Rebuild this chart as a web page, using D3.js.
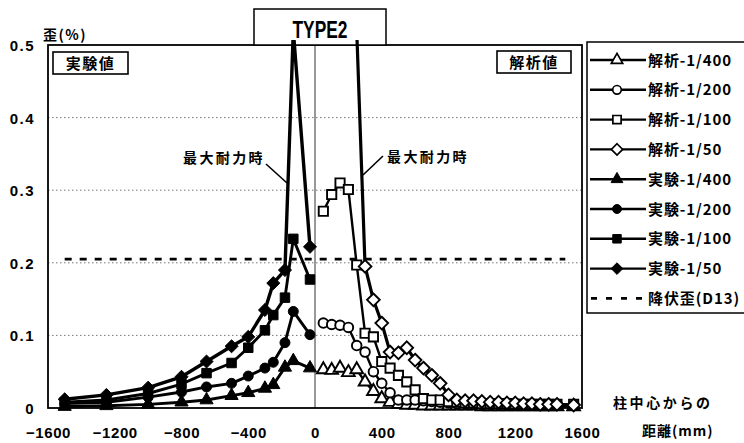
<!DOCTYPE html>
<html>
<head>
<meta charset="utf-8">
<script src="https://cdn.jsdelivr.net/npm/d3@7"></script>
<style>
  body { margin: 0; background: #fff; }
  svg text { fill: #000; }
</style>
</head>
<body>
<svg id="chart" width="744" height="443"></svg>
<script>
// Strain distribution along the beam, measured by gauge distance from the column centre.
const expX   = [-1500, -1250, -1000, -800, -650, -500, -400, -300, -250, -180, -130, -30];
const exp400 = [0.002, 0.003, 0.005, 0.008, 0.011, 0.017, 0.021, 0.027, 0.032, 0.056, 0.065, 0.055];
const exp200 = [0.006, 0.008, 0.015, 0.022, 0.029, 0.034, 0.044, 0.055, 0.063, 0.090, 0.133, 0.101];
const exp100 = [0.008, 0.011, 0.020, 0.033, 0.048, 0.062, 0.083, 0.107, 0.128, 0.152, 0.233, 0.177];
const exp50  = [0.012, 0.018, 0.028, 0.043, 0.064, 0.085, 0.098, 0.135, 0.172, 0.190, 0.520, 0.222];

const anaX   = [50, 100, 150, 200, 250, 300, 350, 400, 450, 500, 550, 600, 650, 700, 750,
                800, 850, 900, 950, 1000, 1050, 1100, 1150, 1200, 1250, 1300, 1350, 1400, 1450, 1550];
const ana400 = [0.053, 0.052, 0.055, 0.049, 0.053, 0.036, 0.023, 0.013, 0.008, 0.005, 0.004, 0.004, 0.003, 0.003, 0.003,
                0.003, 0.003, 0.003, 0.003, 0.002, 0.002, 0.002, 0.002, 0.002, 0.002, 0.002, 0.002, 0.002, 0.002, 0.002];
const ana200 = [0.117, 0.115, 0.114, 0.111, 0.086, 0.077, 0.050, 0.034, 0.021, 0.011, 0.011, 0.011, 0.010, 0.009, 0.008,
                0.007, 0.006, 0.006, 0.005, 0.005, 0.005, 0.005, 0.004, 0.004, 0.004, 0.004, 0.004, 0.004, 0.004, 0.004];
const ana100 = [0.271, 0.294, 0.310, 0.301, 0.197, 0.103, 0.098, 0.064, 0.055, 0.045, 0.036, 0.025, 0.013, 0.011, 0.011,
                0.009, 0.008, 0.007, 0.007, 0.006, 0.006, 0.006, 0.006, 0.005, 0.005, 0.005, 0.005, 0.005, 0.005, 0.005];
const ana50  = [null, null, null, null, 0.520, 0.195, 0.149, 0.117, 0.077, 0.076, 0.083, 0.066, 0.055, 0.045, 0.034,
                0.018, 0.011, 0.010, 0.010, 0.009, 0.008, 0.008, 0.007, 0.007, 0.006, 0.006, 0.005, 0.005, 0.005, 0.004];

const yieldX = [-1500, 1500];
const yieldV = [0.205, 0.205];

const xTicks = [-1600, -1200, -800, -400, 0, 400, 800, 1200, 1600];
const yTicks = [0, 0.1, 0.2, 0.3, 0.4, 0.5];
const gridV  = [0.1, 0.2, 0.3, 0.4];

const legendLabels = ["解析-1/400", "解析-1/200", "解析-1/100", "解析-1/50",
                      "実験-1/400", "実験-1/200", "実験-1/100", "実験-1/50", "降伏歪(D13)"];

const svg = d3.select("#chart");
const x = d3.scaleLinear().domain([-1600, 1600]).range([48, 582]);
const y = d3.scaleLinear().domain([0, 0.5]).range([408, 45]);

const latin = "'Liberation Sans', Arial, sans-serif";
const cjk = "'Noto Sans CJK JP', 'Noto Sans', sans-serif";

svg.append("defs").append("clipPath").attr("id", "plotClip")
  .append("rect").attr("x", 30).attr("y", 40).attr("width", 560).attr("height", 400);

// gridlines
svg.append("g").selectAll("line").data(gridV).join("line")
  .attr("x1", x(-1600)).attr("x2", x(1600))
  .attr("y1", d => y(d)).attr("y2", d => y(d))
  .attr("stroke", "#666").attr("stroke-width", 0.9).attr("stroke-dasharray", "1.5,2.5");

// column centre line
svg.append("line")
  .attr("x1", x(0)).attr("x2", x(0)).attr("y1", y(0.5)).attr("y2", y(0))
  .attr("stroke", "#333").attr("stroke-width", 1);

// frame
svg.append("rect")
  .attr("x", x(-1600)).attr("y", y(0.5))
  .attr("width", x(1600) - x(-1600)).attr("height", y(0) - y(0.5))
  .attr("fill", "none").attr("stroke", "#000").attr("stroke-width", 1.8);

// title box
svg.append("rect").attr("x", 254).attr("y", 9).attr("width", 132).attr("height", 36)
  .attr("fill", "#fff").attr("stroke", "#000").attr("stroke-width", 1.5);
svg.append("text").attr("x", 320).attr("y", 37.5).attr("text-anchor", "middle")
  .attr("font-family", latin).attr("font-weight", "bold").attr("font-size", 23)
  .attr("textLength", 55).attr("lengthAdjust", "spacingAndGlyphs").text("TYPE2");

// axes
const yAxis = svg.append("g").attr("transform", `translate(${x(-1600)},0)`)
  .call(d3.axisLeft(y).tickValues(yTicks).tickSize(0).tickPadding(13)
    .tickFormat(d => d === 0 ? "0" : d.toFixed(1)));
yAxis.select(".domain").remove();
yAxis.selectAll("text").attr("font-family", latin).attr("font-weight", "bold")
  .attr("font-size", 15).attr("letter-spacing", 1.5).attr("dy", "0.36em");

const xAxis = svg.append("g").attr("transform", `translate(0,${y(0)})`)
  .call(d3.axisBottom(x).tickValues(xTicks).tickSize(0).tickPadding(19)
    .tickFormat(d => d < 0 ? "\u2212" + Math.abs(d) : String(d)));
xAxis.select(".domain").remove();
xAxis.selectAll("text").attr("font-family", latin).attr("font-weight", "bold")
  .attr("font-size", 15).attr("letter-spacing", 0.6);

// axis titles
svg.append("text").attr("x", 43).attr("y", 40)
  .attr("font-family", cjk).attr("font-weight", "bold").attr("font-size", 14)
  .attr("letter-spacing", 1.5).text("歪(%)");
svg.append("text").attr("x", 613).attr("y", 408)
  .attr("font-family", cjk).attr("font-weight", "bold").attr("font-size", 14)
  .attr("letter-spacing", 2.6).text("柱中心からの");
svg.append("text").attr("x", 642).attr("y", 436)
  .attr("font-family", cjk).attr("font-weight", "bold").attr("font-size", 14)
  .attr("letter-spacing", 1).text("距離(mm)");

// a square turned 45 degrees, as a marker shape
const symbolRhomb = {
  draw(ctx, size) {
    const r = Math.sqrt(size / 2);
    ctx.moveTo(0, -r); ctx.lineTo(r, 0); ctx.lineTo(0, r); ctx.lineTo(-r, 0); ctx.closePath();
  }
};

// series styles
const series = [
  { xs: anaX, vs: ana400, sym: d3.symbolTriangle, size: 70, open: true, lw: 2.4 },
  { xs: anaX, vs: ana200, sym: d3.symbolCircle,   size: 72, open: true, lw: 2.4 },
  { xs: anaX, vs: ana100, sym: d3.symbolSquare,   size: 85, open: true, lw: 2.4 },
  { xs: anaX, vs: ana50,  sym: symbolRhomb,       size: 80, open: true, lw: 3.2 },
  { xs: expX, vs: exp400, sym: d3.symbolTriangle, size: 75, open: false, lw: 2.9 },
  { xs: expX, vs: exp200, sym: d3.symbolCircle,   size: 78, open: false, lw: 2.9 },
  { xs: expX, vs: exp100, sym: d3.symbolSquare,   size: 90, open: false, lw: 2.9 },
  { xs: expX, vs: exp50,  sym: symbolRhomb,       size: 85, open: false, lw: 3.4 }
];

const plot = svg.append("g").attr("clip-path", "url(#plotClip)");

// yield strain
plot.append("path")
  .attr("d", d3.line().x(d => x(d[0])).y(d => y(d[1]))(yieldX.map((v, i) => [v, yieldV[i]])))
  .attr("fill", "none").attr("stroke", "#000").attr("stroke-width", 2.8)
  .attr("stroke-dasharray", "7,8");

const line = d3.line().defined(d => d[1] !== null).x(d => x(d[0])).y(d => y(d[1]));

series.forEach(s => {
  const pts = s.xs.map((v, i) => [v, s.vs[i]]);
  plot.append("path").attr("d", line(pts))
    .attr("fill", "none").attr("stroke", "#000").attr("stroke-width", s.lw)
    .attr("stroke-linejoin", "round");
});
series.forEach(s => {
  const pts = s.xs.map((v, i) => [v, s.vs[i]]).filter(d => d[1] !== null);
  plot.append("g").selectAll("path").data(pts).join("path")
    .attr("transform", d => `translate(${x(d[0])},${y(d[1])})`)
    .attr("d", d3.symbol().type(s.sym).size(s.size))
    .attr("fill", s.open ? "#fff" : "#000")
    .attr("stroke", "#000").attr("stroke-width", s.open ? 1.9 : 1);
});

// panel tags
[["実験値", 53, 52, 75], ["解析値", 497, 51, 74]].forEach(([t, bx, by, bw]) => {
  svg.append("rect").attr("x", bx).attr("y", by).attr("width", bw).attr("height", 22)
    .attr("fill", "#fff").attr("stroke", "#000").attr("stroke-width", 1.6);
  svg.append("text").attr("x", bx + bw / 2).attr("y", by + 16.5).attr("text-anchor", "middle")
    .attr("font-family", cjk).attr("font-weight", "bold").attr("font-size", 15)
    .attr("letter-spacing", 1.5).text(t);
});

// peak call-outs
svg.append("text").attr("x", 183).attr("y", 163)
  .attr("font-family", cjk).attr("font-weight", "bold").attr("font-size", 14)
  .attr("letter-spacing", 2.4).text("最大耐力時");
svg.append("line").attr("x1", 266).attr("y1", 164).attr("x2", 287).attr("y2", 183)
  .attr("stroke", "#000").attr("stroke-width", 1.6);
svg.append("text").attr("x", 387).attr("y", 162)
  .attr("font-family", cjk).attr("font-weight", "bold").attr("font-size", 14)
  .attr("letter-spacing", 2.4).text("最大耐力時");
svg.append("line").attr("x1", 383).attr("y1", 156).attr("x2", 363).attr("y2", 175)
  .attr("stroke", "#000").attr("stroke-width", 1.6);

// legend
const legend = svg.append("g");
legend.append("rect").attr("x", 587).attr("y", 42).attr("width", 170).attr("height", 271)
  .attr("fill", "#fff").attr("stroke", "#000").attr("stroke-width", 1.5);
const rowY = i => 60 + i * 29.8;
legendLabels.forEach((lab, i) => {
  const ry = rowY(i);
  if (i < 8) {
    const s = series[i];
    legend.append("line").attr("x1", 590).attr("x2", 646).attr("y1", ry).attr("y2", ry)
      .attr("stroke", "#000").attr("stroke-width", 2.4);
    legend.append("path").attr("transform", `translate(617,${ry})`)
      .attr("d", d3.symbol().type(s.sym).size(s.size * 0.8))
      .attr("fill", s.open ? "#fff" : "#000").attr("stroke", "#000")
      .attr("stroke-width", s.open ? 1.7 : 1);
  } else {
    legend.append("line").attr("x1", 591).attr("x2", 646).attr("y1", ry).attr("y2", ry)
      .attr("stroke", "#000").attr("stroke-width", 2.8).attr("stroke-dasharray", "6,9");
  }
  legend.append("text").attr("x", 648).attr("y", ry + 5.5)
    .attr("font-family", cjk).attr("font-weight", "bold").attr("font-size", 15)
    .attr("letter-spacing", 0.9).text(lab);
});
</script>
</body>
</html>
